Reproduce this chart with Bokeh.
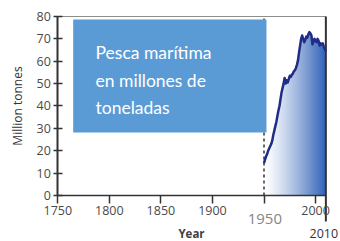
from bokeh.plotting import figure
from bokeh.models import Range1d, FixedTicker, BoxAnnotation, Label
from bokeh.embed import file_html
from bokeh.resources import INLINE

# ---- data ----
years = list(range(1950, 2011))
catch_mt = [14.5, 16, 17.5, 18.5, 20, 21, 22, 23, 24.5, 27,
            29, 31, 33, 35.5, 38, 40, 43, 46, 48, 50,
            52.5, 50, 51.5, 50.5, 52, 53.5, 53, 54, 54.5, 55.5,
            56, 57, 58.5, 60.5, 64, 67, 70, 71.5, 70, 68.5,
            69.5, 71, 70.5, 72, 73, 72.5, 71.5, 67.5, 69, 70,
            69, 68.5, 70, 69, 67, 68, 67.5, 68, 66.5, 65.5,
            64.5]
x_ticks = [1750, 1800, 1850, 1900, 1950, 2000]
y_ticks = [0, 10, 20, 30, 40, 50, 60, 70, 80]
title_text = ["Pesca marítima", "en millones de", "toneladas"]

FONT = "Open Sans"
BOX_FONT = "Lato"

# the frame covers the whole canvas; both axes are fixed at data locations
p = figure(frame_width=340, frame_height=241, output_backend="svg",
           toolbar_location=None,
           x_range=Range1d(1694.4, 2024.2), y_range=Range1d(-20.56, 87.15),
           min_border_left=0, min_border_right=0, min_border_top=0,
           min_border_bottom=0)
p.grid.visible = False
p.outline_line_color = None
p.background_fill_color = "white"
p.border_fill_color = "white"

n = len(years)
def col(t):
    t2 = t ** 1.25
    r1, g1, b1 = 46, 96, 184
    r = int(255 + (r1 - 255) * t2)
    g = int(255 + (g1 - 255) * t2)
    b = int(255 + (b1 - 255) * t2)
    return "#%02x%02x%02x" % (r, g, b)

# gradient fill under the curve (stacked, later = bluer)
for i in range(n - 1):
    t = (years[i] - years[0]) / (years[-1] - years[0])
    p.varea(x=years[i:], y1=0, y2=catch_mt[i:], fill_color=col(t), fill_alpha=1)

# top border, dotted 1950 marker, right border
p.segment(x0=[x_ticks[0]], y0=[y_ticks[-1]], x1=[years[-1]], y1=[y_ticks[-1]],
          line_color="#8c8c8c", line_width=1)
p.segment(x0=[years[0]], y0=[y_ticks[0]], x1=[years[0]], y1=[y_ticks[-1]],
          line_color="#666666", line_width=2, line_dash="3 3")
p.segment(x0=[years[-1]], y0=[-11.6], x1=[years[-1]], y1=[y_ticks[-1]],
          line_color="#333333", line_width=2)

p.line(years, catch_mt, line_color="#1f2d86", line_width=2.5, line_join="round")

xa = p.xaxis[0]
xa.fixed_location = 0
xa.bounds = (x_ticks[0], years[-1])
xa.ticker = FixedTicker(ticks=x_ticks)
xa.major_label_overrides = {1950: ""}
xa.minor_tick_line_color = None
xa.axis_line_color = "#333333"
xa.axis_line_width = 1.5
xa.major_tick_line_color = "#333333"
xa.major_tick_line_width = 1.5
xa.major_tick_in = 0
xa.major_tick_out = 8
xa.major_label_standoff = 3
xa.major_label_text_font = FONT
xa.major_label_text_font_size = "12.5px"
xa.major_label_text_color = "#4a4a4a"
xa.axis_label = "Year"
xa.axis_label_text_font = FONT
xa.axis_label_text_font_size = "11.5px"
xa.axis_label_text_font_style = "bold"
xa.axis_label_text_color = "#404040"
xa.axis_label_standoff = 7

ya = p.yaxis[0]
ya.fixed_location = x_ticks[0]
ya.bounds = (y_ticks[0], y_ticks[-1])
ya.ticker = FixedTicker(ticks=y_ticks)
ya.minor_tick_line_color = None
ya.axis_line_color = "#333333"
ya.axis_line_width = 2
ya.major_tick_line_color = "#333333"
ya.major_tick_line_width = 1.5
ya.major_tick_in = 5
ya.major_tick_out = 4
ya.major_label_standoff = 3
ya.major_label_text_font = FONT
ya.major_label_text_font_size = "12.5px"
ya.major_label_text_color = "#4a4a4a"
ya.axis_label = "Million tonnes"
ya.axis_label_text_font = FONT
ya.axis_label_text_font_size = "12px"
ya.axis_label_text_font_style = "normal"
ya.axis_label_text_color = "#333333"
ya.axis_label_standoff = 7

# blue text box
p.add_layout(BoxAnnotation(left=1764.9, right=1952.4, bottom=28.16, top=78.66,
                           fill_color="#5b9bd5", fill_alpha=1, line_color=None))
for txt, yv in zip(title_text, [63.9, 51.4, 39.3]):
    p.add_layout(Label(x=1786.6, y=yv, text=txt, text_font=BOX_FONT,
                       text_font_size="17.5px", text_color="white",
                       text_baseline="alphabetic", text_align="left"))

# special tick labels
p.add_layout(Label(x=1950.8, y=-10.4, text="1950", text_font=FONT,
                   text_font_size="15px", text_color="#858585",
                   text_align="center", text_baseline="alphabetic"))
p.add_layout(Label(x=2008.0, y=-17.1, text="2010", text_font=FONT,
                   text_font_size="12.5px", text_color="#333333",
                   text_align="center", text_baseline="alphabetic"))

open("out.html", "w").write(file_html(p, INLINE))
